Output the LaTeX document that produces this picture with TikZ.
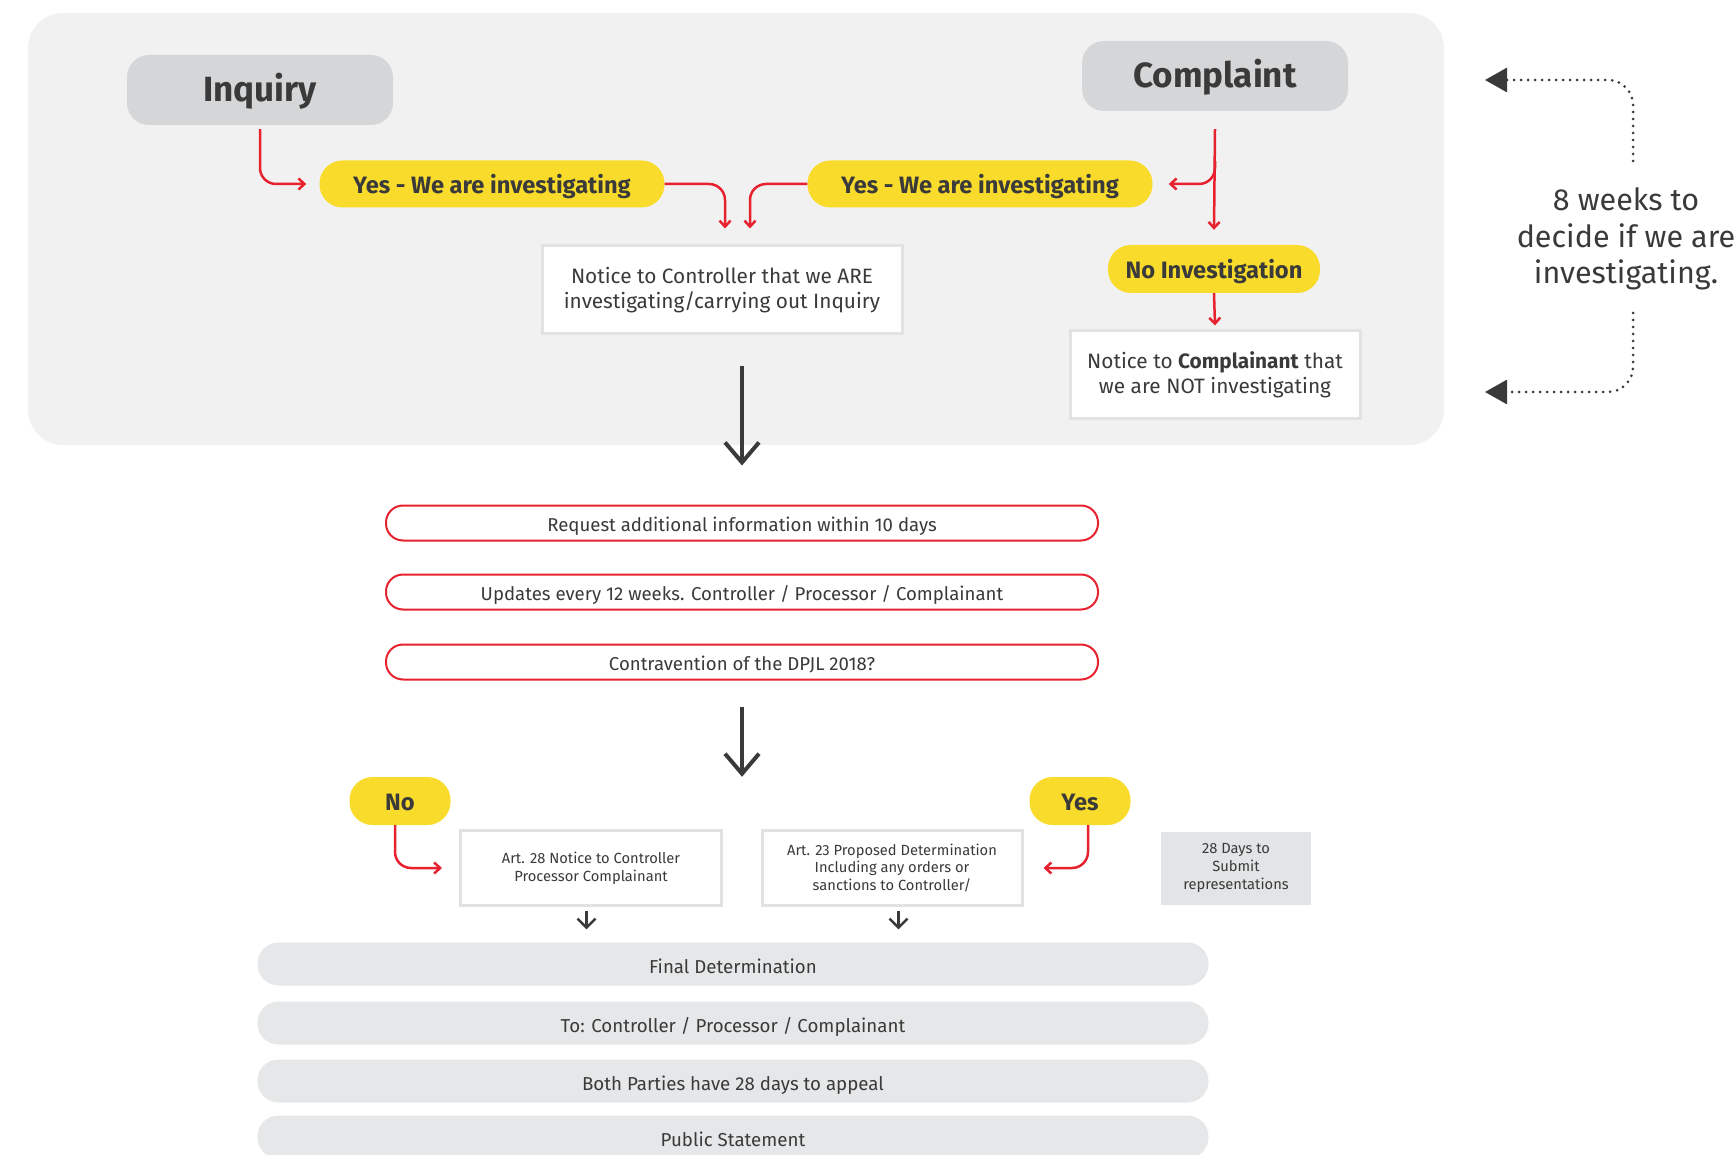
\documentclass[tikz,border=0pt]{standalone}
\usepackage{fontspec}
\setmainfont{Fira Sans}
\usetikzlibrary{positioning,arrows.meta}

\definecolor{panelgrey}{HTML}{F1F1F1}
\definecolor{boxgrey}{HTML}{D5D6D8}
\definecolor{pillgrey}{HTML}{E6E7E8}
\definecolor{daygrey}{HTML}{E3E4E6}
\definecolor{edgegrey}{HTML}{E2E2E2}
\definecolor{signyellow}{HTML}{F9DC2B}
\definecolor{signred}{HTML}{E8212E}
\definecolor{inkdark}{HTML}{3A3A3A}

\begin{document}
\begin{tikzpicture}[x=1pt, y=-1pt,
    source/.style={shape=rectangle, rounded corners=22pt, fill=boxgrey, text=inkdark, minimum width=266pt, minimum height=70pt, text height=24pt, text depth=0pt, font=\fontsize{35}{40}\selectfont\bfseries},
    answer/.style={shape=rectangle, rounded corners=23pt, fill=signyellow, text=inkdark, minimum height=47pt, text height=19pt, text depth=0pt, font=\fontsize{23.7}{27}\selectfont\bfseries},
    notice/.style={shape=rectangle, draw=edgegrey, line width=3pt, fill=white, text=inkdark, align=center, minimum height=88pt, font=\fontsize{20.8}{25.5}\selectfont},
    redpill/.style={shape=rectangle, rounded corners=17pt, draw=signred, line width=2pt, fill=white, text=inkdark, minimum width=712pt, minimum height=35pt, text height=16pt, text depth=0pt, font=\fontsize{18.6}{22}\selectfont},
    artbox/.style={shape=rectangle, draw=edgegrey, line width=3pt, fill=white, text=inkdark, align=center, minimum width=260pt, minimum height=75pt, font=\fontsize{14.7}{17.7}\selectfont},
    greypill/.style={shape=rectangle, rounded corners=21pt, fill=pillgrey, text=inkdark, minimum width=951pt, minimum height=43pt, text height=18pt, text depth=0pt, font=\fontsize{18.7}{22}\selectfont},
    redarrow/.style={draw=signred, line width=2.5pt, rounded corners=16pt, -{Straight Barb[length=6pt,width=11pt]}},
    bigarrow/.style={draw=inkdark, line width=4pt, -{Straight Barb[length=20pt,width=34pt]}},
    smallarrow/.style={draw=inkdark, line width=2.5pt, -{Straight Barb[length=9pt,width=18pt]}},
    dotarrow/.style={draw=inkdark, line width=3pt, dash pattern=on 0pt off 7pt, line cap=round, rounded corners=25pt, -{Triangle[length=22pt,width=24pt]}}
]
    \useasboundingbox (0,0) rectangle (1735,1155);
    \clip (0,0) rectangle (1735,1155);

    % Decision panel
    \fill[panelgrey, rounded corners=35pt] (28,13) rectangle (1444,445);

    % Sources
    \node[source] (Inquiry) at (260,90) {Inquiry};
    \node[source] (Complaint) at (1215,76) {Complaint};

    % First answers
    \node[answer, minimum width=345pt] (YesInq) at (492,184) {Yes - We are investigating};
    \node[answer, minimum width=345pt] (YesCmp) at (980,184) {Yes - We are investigating};
    \node[answer, minimum width=212pt, minimum height=48pt] (NoInv) at (1214,269) {No Investigation};

    % Notices
    \node[notice, minimum width=360pt] (NtCtrl) at (722,290) {Notice to Controller that we ARE\\investigating/carrying out Inquiry};
    \node[notice, minimum width=290pt] (NtCmp) at (1215,375) {Notice to \textbf{Complainant} that\\we are NOT investigating};

    % Deadline note
    \node[align=center, text=inkdark, font=\fontsize{30.5}{36.5}\selectfont] (Weeks) at (1626,239) {8 weeks to\\decide if we are\\investigating.};
    \coordinate (UpStart) at (1633,161);
    \coordinate (UpEnd) at (1485,80);
    \coordinate (LowStart) at (1633,313);
    \coordinate (LowEnd) at (1485,392);

    % Investigation steps
    \node[redpill] (ReqInfo) at (742,523) {Request additional information within 10 days};
    \node[redpill] (Updates) at (742,592) {Updates every 12 weeks. Controller / Processor / Complainant};
    \node[redpill] (Contra) at (742,662) {Contravention of the DPJL 2018?};

    % Outcome
    \node[answer, minimum width=101pt, minimum height=48pt] (No) at (400,801) {No};
    \node[answer, minimum width=101pt, minimum height=48pt] (Yes) at (1080,801) {Yes};
    \node[artbox, minimum width=261pt] (Art28) at (591,868) {Art. 28 Notice to Controller\\Processor Complainant};
    \node[artbox] (Art23) at (892,868) {Art. 23 Proposed Determination\\Including any orders or\\sanctions to Controller/};
    \node[artbox, draw=none, fill=daygrey, minimum width=150pt, minimum height=73pt] (Days) at (1236,868) {28 Days to\\Submit\\representations};

    % Final steps
    \node[greypill] (Final) at (733,964) {Final Determination};
    \node[greypill] (ToAll) at (733,1023) {To: Controller / Processor / Complainant};
    \node[greypill] (Appeal) at (733,1081) {Both Parties have 28 days to appeal};
    \node[greypill] (Public) at (733,1137) {Public Statement};

    % Connections
    \draw[redarrow] ([yshift=-4pt]Inquiry.south) |- ([xshift=-13pt]YesInq.west);
    \draw[redarrow] (YesInq.east) -| ([xshift=3pt, yshift=16pt]NtCtrl.north);
    \draw[redarrow] (YesCmp.west) -| ([xshift=28pt, yshift=16pt]NtCtrl.north);
    \draw[redarrow] ([yshift=-18pt]Complaint.south) -- ([yshift=15pt]NoInv.north);
    \draw[redarrow] ([yshift=-50pt]Complaint.south) |- ([xshift=16pt]YesCmp.east);
    \draw[redarrow] (NoInv.south) -- ([yshift=4pt]NtCmp.north);
    \draw[dotarrow] (UpStart) |- (UpEnd);
    \draw[dotarrow] (LowStart) |- (LowEnd);

    \draw[bigarrow, shorten <=31pt, shorten >=39pt] (NtCtrl.south -| ReqInfo.north) -- (ReqInfo.north);
    \draw[bigarrow, shorten <=26pt] (Contra.south) -- (Contra.south |- No.north);

    \draw[redarrow] ([xshift=-5pt]No.south) |- ([xshift=-17pt]Art28.west);
    \draw[redarrow] ([xshift=8pt]Yes.south) |- ([xshift=20pt]Art23.east);
    \draw[smallarrow, shorten <=4pt, shorten >=13pt, transform canvas={xshift=-4.5pt}] (Art28.south) -- (Art28.south |- Final.north);
    \draw[smallarrow, shorten <=4pt, shorten >=13pt, transform canvas={xshift=6.5pt}] (Art23.south) -- (Art23.south |- Final.north);

\end{tikzpicture}
\end{document}
